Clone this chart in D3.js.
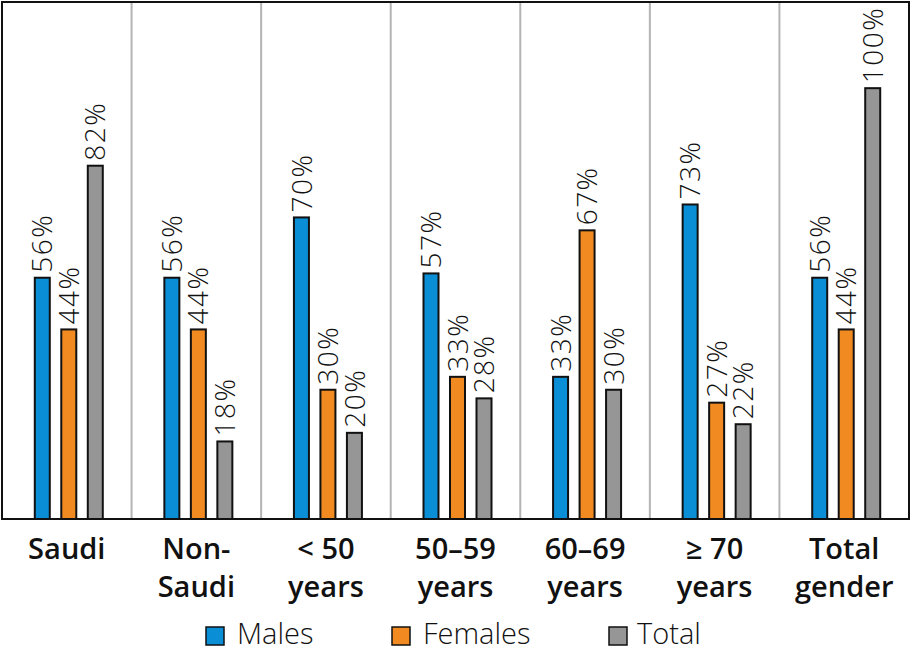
<!DOCTYPE html>
<html>
<head>
<meta charset="utf-8">
<script src="https://cdn.jsdelivr.net/npm/d3@7"></script>
<style>
  html, body { margin: 0; padding: 0; background: #fff; }
  svg { display: block; }
</style>
</head>
<body>
<svg id="chart" width="911" height="647"></svg>
<script>
const categories = [["Saudi"], ["Non-", "Saudi"], ["< 50", "years"], ["50\u201359", "years"], ["60\u201369", "years"], ["\u2265 70", "years"], ["Total", "gender"]];
const seriesNames = ["Males", "Females", "Total"];
const males   = [56, 56, 70, 57, 33, 73, 56];
const females = [44, 44, 30, 33, 67, 27, 44];
const totals  = [82, 18, 20, 28, 30, 22, 100];
const colors  = ["#0a8fd6", "#f28a22", "#969696"];

const seriesValues = [males, females, totals];
const svg = d3.select("#chart");
const plotL = 2, plotR = 909, plotT = 2, plotB = 519;

const x = d3.scaleBand().domain(d3.range(categories.length)).range([plotL, plotR]).padding(0);
const bw = x.bandwidth();
const sub = d3.scaleBand().domain(seriesNames).range([bw / 2 - 32, bw / 2 + 36]).paddingInner(0.434).paddingOuter(0);
const y = d3.scaleLinear().domain([0, 120]).range([plotB, plotT]);

// vertical separators
svg.append("g").selectAll("line")
  .data(d3.range(1, categories.length))
  .join("line")
  .attr("x1", d => x(d)).attr("x2", d => x(d))
  .attr("y1", plotT).attr("y2", plotB)
  .attr("stroke", "#b4b4b4").attr("stroke-width", 2);

// bars
const data = [];
categories.forEach((c, i) => {
  seriesNames.forEach((s, j) => {
    data.push({ i, s, j, v: seriesValues[j][i] });
  });
});

const g = svg.append("g");
g.selectAll("rect")
  .data(data)
  .join("rect")
  .attr("x", d => x(d.i) + sub(d.s))
  .attr("y", d => y(d.v))
  .attr("width", sub.bandwidth())
  .attr("height", d => y(0) - y(d.v))
  .attr("fill", d => colors[d.j])
  .attr("stroke", "#111")
  .attr("stroke-width", 2);

// value labels
g.selectAll("text.val")
  .data(data)
  .join("text")
  .attr("class", "val")
  .attr("transform", d => `translate(${x(d.i) + sub(d.s) + sub.bandwidth() / 2},${y(d.v) - 5}) rotate(-90)`)
  .attr("dy", "0.36em")
  .attr("text-anchor", "start")
  .attr("font-family", "'Open Sans', 'Noto Sans', sans-serif")
  .attr("font-weight", 300)
  .attr("font-size", 28)
  .attr("letter-spacing", 1.5)
  .attr("fill", "#111")
  .text(d => d.v + "%");

// frame
svg.append("rect")
  .attr("x", plotL).attr("y", plotT)
  .attr("width", plotR - plotL).attr("height", plotB - plotT)
  .attr("fill", "none").attr("stroke", "#111").attr("stroke-width", 2);

// category labels
const cat = svg.append("g").selectAll("text")
  .data(categories)
  .join("text")
  .attr("x", (d, i) => x(i) + bw / 2)
  .attr("y", 559)
  .attr("text-anchor", "middle")
  .attr("font-family", "'Open Sans', 'Noto Sans', sans-serif")
  .attr("font-weight", 600)
  .attr("font-size", 29)
  .attr("fill", "#111");
cat.selectAll("tspan")
  .data(d => d)
  .join("tspan")
  .attr("x", function() { return this.parentNode.getAttribute("x"); })
  .attr("dy", (d, k) => k === 0 ? 0 : 38)
  .text(d => d);

// legend
const legendX = [206, 392, 609];
const lg = svg.append("g").selectAll("g")
  .data(seriesNames)
  .join("g")
  .attr("transform", (d, i) => `translate(${legendX[i]},627)`);
lg.append("rect")
  .attr("width", 18).attr("height", 18)
  .attr("fill", (d, i) => colors[i])
  .attr("stroke", "#111").attr("stroke-width", 1.5);
lg.append("text")
  .attr("x", (d, i) => i === 2 ? 28 : 31).attr("y", 17)
  .attr("font-family", "'Open Sans', 'Noto Sans', sans-serif")
  .attr("font-weight", 300)
  .attr("font-size", 29)
  .attr("fill", "#111")
  .text(d => d);
</script>
</body>
</html>
